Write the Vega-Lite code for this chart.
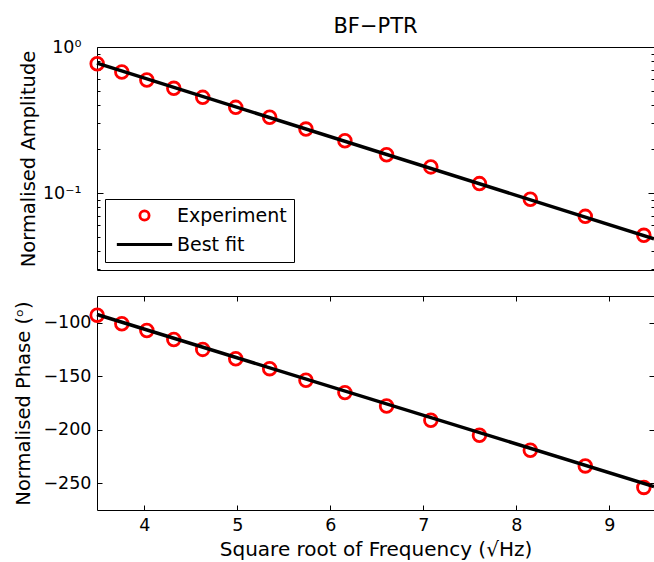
{
  "$schema": "https://vega.github.io/schema/vega-lite/v6.json",
  "padding": {"left": 13, "top": 15, "right": 0, "bottom": 2},
  "background": "white",
  "config": {
    "font": "DejaVu Sans",
    "view": {"stroke": "black", "strokeWidth": 1},
    "axis": {
      "labelFont": "DejaVu Sans", "titleFont": "DejaVu Sans",
      "labelFontSize": 17.5, "titleFontSize": 19.5, "titleFontWeight": "normal",
      "labelColor": "black", "titleColor": "black", "tickColor": "black",
      "domain": false, "grid": false, "tickWidth": 1
    },
    "title": {"font": "DejaVu Sans", "fontSize": 21, "fontWeight": "normal", "color": "black"}
  },
  "datasets": {
    "experiment": [
      {"x": 3.492, "amp": 0.768, "phase": -92.9, "series": "Experiment"},
      {"x": 3.757, "amp": 0.674, "phase": -100.9, "series": "Experiment"},
      {"x": 4.026, "amp": 0.594, "phase": -107.2, "series": "Experiment"},
      {"x": 4.316, "amp": 0.521, "phase": -115.6, "series": "Experiment"},
      {"x": 4.627, "amp": 0.452, "phase": -124.9, "series": "Experiment"},
      {"x": 4.982, "amp": 0.386, "phase": -133.6, "series": "Experiment"},
      {"x": 5.347, "amp": 0.330, "phase": -142.9, "series": "Experiment"},
      {"x": 5.737, "amp": 0.274, "phase": -153.8, "series": "Experiment"},
      {"x": 6.156, "amp": 0.228, "phase": -165.3, "series": "Experiment"},
      {"x": 6.604, "amp": 0.183, "phase": -177.8, "series": "Experiment"},
      {"x": 7.080, "amp": 0.151, "phase": -191.1, "series": "Experiment"},
      {"x": 7.603, "amp": 0.116, "phase": -205.1, "series": "Experiment"},
      {"x": 8.150, "amp": 0.0906, "phase": -219.1, "series": "Experiment"},
      {"x": 8.741, "amp": 0.0692, "phase": -233.8, "series": "Experiment"},
      {"x": 9.371, "amp": 0.0513, "phase": -253.9, "series": "Experiment"}
    ],
    "fit": [
      {"x": 3.49, "amp": 0.776, "phase": -92.3, "series": "Best fit"},
      {"x": 9.48, "amp": 0.0486, "phase": -253.0, "series": "Best fit"}
    ]
  },
  "spacing": 24,
  "resolve": {
    "scale": {"color": "independent", "shape": "independent"},
    "legend": {"color": "independent", "shape": "independent"}
  },
  "vconcat": [
    {
      "width": 557,
      "height": 223,
      "title": {"text": "BF−PTR", "anchor": "middle", "frame": "group", "offset": 1},
      "resolve": {"axis": {"y": "independent"}},
      "layer": [
        {
          "data": {"name": "experiment"},
          "mark": {"type": "point", "filled": false, "strokeWidth": 2.8, "size": 161, "opacity": 1},
          "encoding": {
            "x": {"field": "x", "type": "quantitative", "scale": {"domain": [3.49, 9.48], "nice": false, "zero": false}, "axis": null},
            "y": {
              "field": "amp", "type": "quantitative",
              "scale": {"type": "log", "domain": [0.0297, 1], "nice": false},
              "axis": {
                "orient": "left", "title": "Normalised Amplitude",
                "values": [0.03, 0.04, 0.05, 0.06, 0.07, 0.08, 0.09, 0.1, 0.2, 0.3, 0.4, 0.5, 0.6, 0.7, 0.8, 0.9, 1],
                "labelExpr": "datum.value === 1 ? '10⁰' : (datum.value === 0.1 ? '10⁻¹' : '')",
                "tickSize": {"expr": "datum.value === 1 || datum.value === 0.1 ? -6 : -3"},
                "labelPadding": 22, "titlePadding": 4
              }
            },
            "color": {
              "field": "series", "type": "nominal",
              "scale": {"domain": ["Experiment", "Best fit"], "range": ["#ff0000", "#000000"]},
              "legend": {
                "title": null, "orient": "bottom-left", "offset": 8, "padding": 7,
                "strokeColor": "black", "fillColor": "white", "cornerRadius": 0,
                "labelFont": "DejaVu Sans", "labelFontSize": 19, "labelColor": "black",
                "symbolSize": 85, "symbolStrokeWidth": 2.8, "symbolOffset": 23,
                "labelOffset": 23, "rowPadding": 9
              }
            },
            "shape": {
              "field": "series", "type": "nominal",
              "scale": {"domain": ["Experiment", "Best fit"], "range": ["circle", "M-6,0L6,0"]},
              "legend": {
                "title": null, "orient": "bottom-left", "offset": 8, "padding": 7,
                "strokeColor": "black", "fillColor": "white", "cornerRadius": 0,
                "labelFont": "DejaVu Sans", "labelFontSize": 19, "labelColor": "black",
                "symbolSize": 85, "symbolStrokeWidth": 2.8, "symbolOffset": 23,
                "labelOffset": 23, "rowPadding": 9
              }
            }
          }
        },
        {
          "data": {"name": "fit"},
          "mark": {"type": "line", "strokeWidth": 3.5},
          "encoding": {
            "x": {"field": "x", "type": "quantitative", "scale": {"domain": [3.49, 9.48], "nice": false, "zero": false}, "axis": null},
            "y": {
              "field": "amp", "type": "quantitative",
              "scale": {"type": "log", "domain": [0.0297, 1], "nice": false},
              "axis": {
                "orient": "right", "title": null, "labels": false,
                "values": [0.03, 0.04, 0.05, 0.06, 0.07, 0.08, 0.09, 0.1, 0.2, 0.3, 0.4, 0.5, 0.6, 0.7, 0.8, 0.9, 1],
                "tickSize": {"expr": "datum.value === 1 || datum.value === 0.1 ? -6 : -3"}
              }
            },
            "color": {"field": "series", "type": "nominal", "scale": {"domain": ["Experiment", "Best fit"], "range": ["#ff0000", "#000000"]}}
          }
        }
      ]
    },
    {
      "width": 557,
      "height": 214,
      "resolve": {"axis": {"x": "independent", "y": "independent"}},
      "layer": [
        {
          "data": {"name": "experiment"},
          "mark": {"type": "point", "filled": false, "strokeWidth": 2.8, "size": 161, "opacity": 1, "color": "#ff0000"},
          "encoding": {
            "x": {
              "field": "x", "type": "quantitative",
              "scale": {"domain": [3.49, 9.48], "nice": false, "zero": false},
              "axis": {"orient": "bottom", "title": "Square root of Frequency (√Hz)", "values": [4, 5, 6, 7, 8, 9], "tickSize": -5, "labelPadding": 11, "titlePadding": 6, "titleFontSize": 20}
            },
            "y": {
              "field": "phase", "type": "quantitative",
              "scale": {"domain": [-275, -75], "nice": false, "zero": false},
              "axis": {"orient": "left", "title": "Normalised Phase (ᵒ)", "values": [-250, -200, -150, -100], "tickSize": -5, "labelPadding": 11, "titlePadding": 9}
            }
          }
        },
        {
          "data": {"name": "fit"},
          "mark": {"type": "line", "strokeWidth": 3.5, "color": "#000000"},
          "encoding": {
            "x": {
              "field": "x", "type": "quantitative",
              "scale": {"domain": [3.49, 9.48], "nice": false, "zero": false},
              "axis": {"orient": "top", "title": null, "labels": false, "values": [4, 5, 6, 7, 8, 9], "tickSize": -5}
            },
            "y": {
              "field": "phase", "type": "quantitative",
              "scale": {"domain": [-275, -75], "nice": false, "zero": false},
              "axis": {"orient": "right", "title": null, "labels": false, "values": [-250, -200, -150, -100], "tickSize": -5}
            }
          }
        }
      ]
    }
  ]
}
